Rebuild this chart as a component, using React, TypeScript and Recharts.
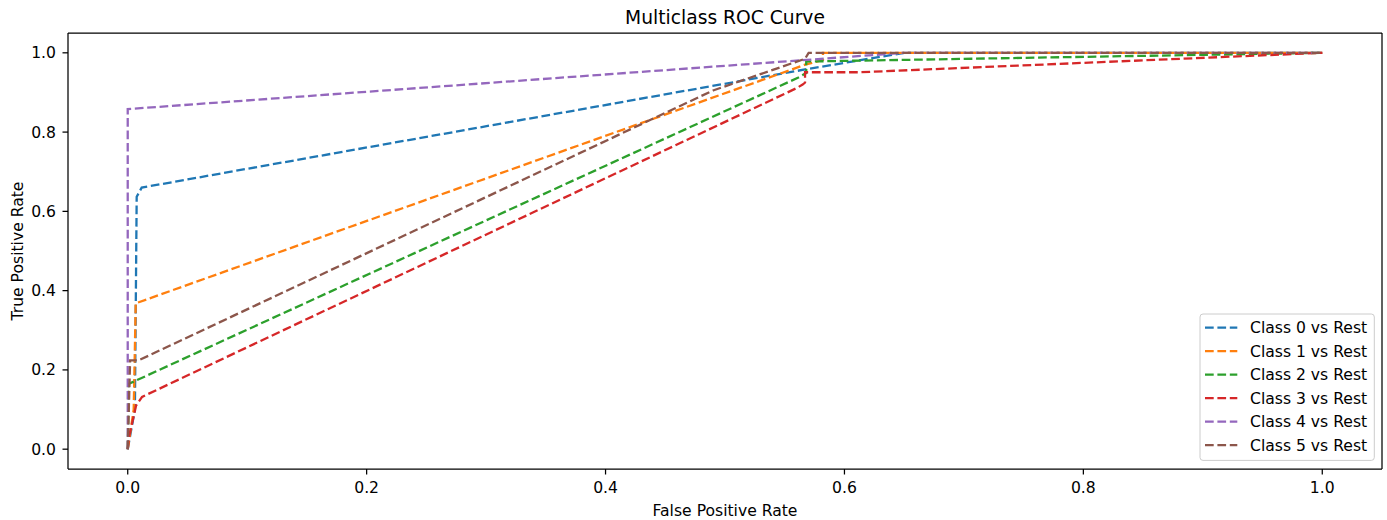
import React from 'react';
import { LineChart, Line, XAxis, YAxis, ReferenceLine } from 'recharts';

const seriesNames = ['Class 0 vs Rest', 'Class 1 vs Rest', 'Class 2 vs Rest', 'Class 3 vs Rest', 'Class 4 vs Rest', 'Class 5 vs Rest'];
const seriesColors = ['#1f77b4', '#ff7f0e', '#2ca02c', '#d62728', '#9467bd', '#8c564b'];

const class0Fpr = [0, 0.006, 0.0075, 0.0117, 0.567, 0.65, 1.0];
const class0Tpr = [0, 0.1, 0.637, 0.66, 0.958, 1.0, 1.0];

const class1Fpr = [0, 0.005, 0.0067, 0.567, 0.582, 0.582, 1.0];
const class1Tpr = [0, 0.1, 0.368, 0.97, 0.982, 1.0, 1.0];

const class2Fpr = [0, 0.001, 0.561, 0.568, 0.568, 1.0];
const class2Tpr = [0, 0.165, 0.937, 0.949, 0.978, 1.0];

const class3Fpr = [0, 0.001, 0.007, 0.012, 0.56, 0.565, 0.567, 0.567, 0.613, 1.0];
const class3Tpr = [0, 0.03, 0.11, 0.132, 0.911, 0.92, 0.925, 0.951, 0.951, 1.0];

const class4Fpr = [0, 0, 0.65, 1.0];
const class4Tpr = [0, 0.858, 1.0, 1.0];

const class5Fpr = [0, 0.002, 0.009, 0.49, 0.567, 0.57, 1.0];
const class5Tpr = [0, 0.224, 0.224, 0.905, 0.985, 1.0, 1.0];

const xTicks = [0, 0.2, 0.4, 0.6, 0.8, 1.0];
const yTicks = [0, 0.2, 0.4, 0.6, 0.8, 1.0];
const axisDomain: [number, number] = [-0.05, 1.05];

const fprs = [class0Fpr, class1Fpr, class2Fpr, class3Fpr, class4Fpr, class5Fpr];
const tprs = [class0Tpr, class1Tpr, class2Tpr, class3Tpr, class4Tpr, class5Tpr];

const seriesData = fprs.map((f, i) => f.map((x, j) => ({ fpr: x, tpr: tprs[i][j] })));

const FONT = 'DejaVu Sans';
const FS = 15.6;
const DASH = '8.7 3.7';
const LW = 2.3;
const SPINE = 1.25;

const fmt = (v: number) => v.toFixed(1);

export default function App() {
  const legendX = 1200;
  const legendY = 314;
  const rowH = 23.5;
  return (
    <div style={{ position: 'absolute', left: 0, top: 0, width: 1387, height: 520, background: '#fff' }}>
      <LineChart width={1387} height={520} margin={{ top: 33, right: 5, bottom: 0, left: 0 }}>
        <XAxis
          xAxisId="main"
          dataKey="fpr"
          type="number"
          domain={axisDomain}
          ticks={xTicks}
          tickFormatter={fmt}
          height={51}
          tickSize={5.5}
          tickMargin={7}
          allowDataOverflow
          axisLine={{ stroke: '#000', strokeWidth: SPINE }}
          tickLine={{ stroke: '#000', strokeWidth: SPINE }}
          tick={{ fill: '#000', fontFamily: FONT, fontSize: FS }}
        />
        <YAxis
          yAxisId="main"
          type="number"
          domain={axisDomain}
          ticks={yTicks}
          tickFormatter={fmt}
          width={68}
          tickSize={5.5}
          tickMargin={6.5}
          allowDataOverflow
          axisLine={{ stroke: '#000', strokeWidth: SPINE }}
          tickLine={{ stroke: '#000', strokeWidth: SPINE }}
          tick={{ fill: '#000', fontFamily: FONT, fontSize: FS }}
        />
        <ReferenceLine xAxisId="main" yAxisId="main" y={axisDomain[1]} stroke="#000" strokeWidth={SPINE} ifOverflow="visible" />
        <ReferenceLine xAxisId="main" yAxisId="main" x={axisDomain[1]} stroke="#000" strokeWidth={SPINE} ifOverflow="visible" />
        {seriesData.map((d, i) => (
          <Line
            key={seriesNames[i]}
            xAxisId="main"
            yAxisId="main"
            data={d}
            dataKey="tpr"
            name={seriesNames[i]}
            type="linear"
            stroke={seriesColors[i]}
            strokeWidth={LW}
            strokeDasharray={DASH}
            dot={false}
            activeDot={false}
            isAnimationActive={false}
          />
        ))}
        <text x={725} y={24} textAnchor="middle" fontFamily={FONT} fontSize={18.7} fill="#000">
          Multiclass ROC Curve
        </text>
        <text x={725} y={515.5} textAnchor="middle" fontFamily={FONT} fontSize={FS} fill="#000">
          False Positive Rate
        </text>
        <text
          x={23}
          y={251}
          textAnchor="middle"
          fontFamily={FONT}
          fontSize={FS}
          fill="#000"
          transform="rotate(-90 23 251)"
        >
          True Positive Rate
        </text>
        <g>
          <rect
            x={legendX}
            y={legendY}
            width={174.3}
            height={146.4}
            rx={3}
            ry={3}
            fill="#fff"
            fillOpacity={0.8}
            stroke="#cccccc"
            strokeWidth={1}
          />
          {seriesNames.map((name, i) => {
            const cy = legendY + 13.7 + i * rowH;
            return (
              <g key={name}>
                <line
                  x1={legendX + 5}
                  x2={legendX + 37.3}
                  y1={cy}
                  y2={cy}
                  stroke={seriesColors[i]}
                  strokeWidth={LW}
                  strokeDasharray={DASH}
                />
                <text x={legendX + 50} y={cy} dy="0.36em" fontFamily={FONT} fontSize={FS} fill="#000">
                  {name}
                </text>
              </g>
            );
          })}
        </g>
      </LineChart>
    </div>
  );
}
